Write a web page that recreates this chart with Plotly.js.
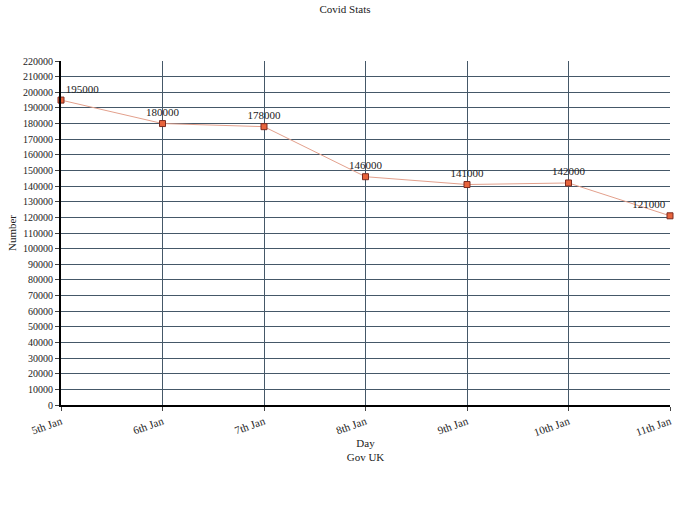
<!DOCTYPE html>
<html>
<head>
<meta charset="utf-8">
<script src="https://cdn.plot.ly/plotly-3.0.1.min.js"></script>
<style>html,body{margin:0;padding:0;background:#fff;}#chart{width:690px;height:507px;}</style>
</head>
<body>
<div id="chart"></div>
<script>
const days = ["5th Jan", "6th Jan", "7th Jan", "8th Jan", "9th Jan", "10th Jan", "11th Jan"];
const cases = [195000, 180000, 178000, 146000, 141000, 142000, 121000];
const pointLabels = ["195000", "180000", "178000", "146000", "141000", "142000", "121000"];
const labelPositions = ["top right", "top center", "top center", "top center", "top center", "top center", "top left"];
const yTicks = [0,10000,20000,30000,40000,50000,60000,70000,80000,90000,100000,110000,120000,130000,140000,150000,160000,170000,180000,190000,200000,210000,220000];

const serif = "Liberation Serif, Times New Roman, serif";
const trace = {
  x: days, y: cases, text: pointLabels,
  type: "scatter", mode: "lines+markers+text",
  textposition: labelPositions,
  textfont: {family: serif, size: 11, color: "#222"},
  line: {color: "#E3A08C", width: 1},
  marker: {symbol: "square", size: 6, color: "#E8643C", line: {color: "#7A2A20", width: 1}},
  cliponaxis: false,
  hoverinfo: "none"
};
const layout = {
  width: 690, height: 507,
  margin: {l: 61, r: 20, t: 61, b: 102},
  paper_bgcolor: "#fff", plot_bgcolor: "#fff",
  showlegend: false,
  title: {text: "Covid Stats", font: {family: serif, size: 11, color: "#222"}, x: 0.5, xanchor: "center", y: 0.99, yanchor: "top"},
  font: {family: serif, size: 10, color: "#222"},
  xaxis: {
    type: "category", range: [0, 6], autorange: false,
    tickangle: -20, tickfont: {family: serif, size: 11, color: "#222"},
    showgrid: true, gridcolor: "#455868", gridwidth: 1,
    showline: true, linecolor: "#000", linewidth: 2,
    ticks: "outside", ticklen: 4, tickcolor: "#444",
    zeroline: false,
    title: {text: "Day<br>Gov UK", font: {family: serif, size: 11, color: "#222"}, standoff: 0}
  },
  yaxis: {
    range: [0, 220000], autorange: false,
    tickvals: yTicks, ticktext: yTicks.map(String),
    tickfont: {family: serif, size: 10, color: "#222"},
    showgrid: true, gridcolor: "#455868", gridwidth: 1,
    showline: true, linecolor: "#000", linewidth: 2,
    ticks: "outside", ticklen: 4, tickcolor: "#444",
    zeroline: false,
    title: {text: "Number", font: {family: serif, size: 11, color: "#222"}, standoff: 4}
  }
};
Plotly.newPlot("chart", [trace], layout, {displayModeBar: false, staticPlot: true});
</script>
</body>
</html>
